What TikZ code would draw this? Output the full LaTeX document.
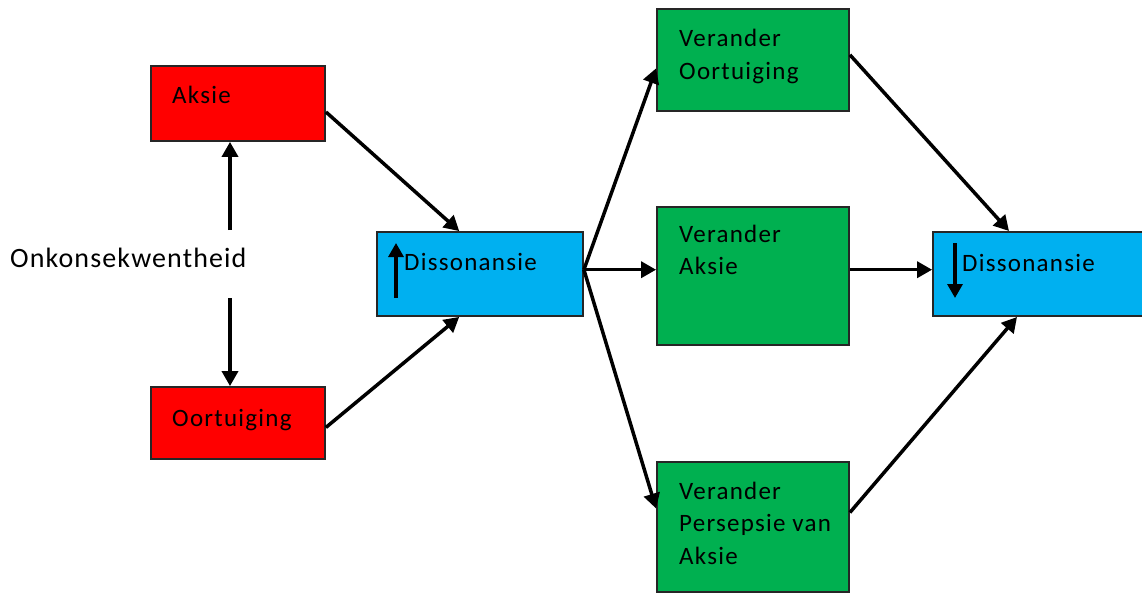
\documentclass[tikz,border=0pt]{standalone}
\usepackage{fontspec}
\setmainfont{Carlito}
\usetikzlibrary{arrows.meta,calc}
\definecolor{boxred}{HTML}{FF0000}
\definecolor{boxgreen}{HTML}{00B050}
\definecolor{boxblue}{HTML}{00B0F0}
\begin{document}
\begin{tikzpicture}[x=1pt,y=-1pt,
  box/.style={draw=black!85,line width=1.8pt,inner sep=0pt,minimum width=#1},
  txt/.style={inner sep=0pt,anchor=base west,align=left,font=\fontsize{25}{32.3}\selectfont\addfontfeatures{LetterSpace=5}},
  conn/.style={line width=3.5pt,-{Triangle[length=15pt,width=16pt]}},
  inarrow/.style={line width=3.2pt,-{Triangle[length=14pt,width=15pt]}}]
\clip (0,0) rectangle (1142,594);
\fill[white] (0,0) rectangle (1142,594);
% boxes
\node[box=174pt,fill=boxred,minimum height=75pt] (aksie) at (238,103.5) {};
\node[box=174pt,fill=boxred,minimum height=72pt] (oort) at (238,423) {};
\node[box=206pt,fill=boxblue,minimum height=84pt] (d1) at (480,274) {};
\node[box=192pt,fill=boxgreen,minimum height=102pt] (vo) at (753,60) {};
\node[box=192pt,fill=boxgreen,minimum height=138pt] (va) at (753,276) {};
\node[box=192pt,fill=boxgreen,minimum height=130pt] (vp) at (753,527) {};
\node[box=217pt,fill=boxblue,minimum height=84pt] (d2) at (1041.5,274) {};
% texts
\node[txt] (taksie) at (172,103) {Aksie};
\node[txt] (toort) at (172,426) {Oortuiging};
\node[txt] (td1) at (404,270) {Dissonansie};
\node[txt] (tvo) at (679,79) {Verander\\Oortuiging};
\node[txt] (tva) at (679,274.5) {Verander\\Aksie};
\node[txt] (tvp) at (679,564) {Verander\\Persepsie van\\Aksie};
\node[txt] (td2) at (962,271) {Dissonansie};
\node[inner sep=0pt,anchor=base west,font=\fontsize{28}{32}\selectfont\addfontfeatures{LetterSpace=4}] (onk) at (10,267) {Onkonsekwentheid};
% arrows inside dissonance boxes
\coordinate (u1) at (396,298);
\coordinate (u2) at (396,243);
\draw[inarrow] (u1) -- (u2);
\coordinate (w1) at (955,243);
\coordinate (w2) at (955,298);
\draw[inarrow] (w1) -- (w2);
% onkonsekwentheid arrows
\coordinate (onkT) at (230,230);
\coordinate (onkB) at (230,298);
\draw[conn] (onkT) -- (aksie.south -| onkT);
\draw[conn] (onkB) -- (oort.north -| onkB);
% connectors
\draw[conn] ($(aksie.north east)!0.61!(aksie.south east)$) -- ($(d1.north west)!0.40!(d1.north east)$);
\draw[conn] ($(oort.north east)!0.56!(oort.south east)$) -- ($(d1.south west)!0.40!(d1.south east)$);
\coordinate (d1out) at ($(d1.north east)!0.45!(d1.south east)$);
\draw[conn] (d1out) -- ($(vo.north west)!0.58!(vo.south west)$);
\draw[conn] (d1out) -- (va.west |- d1out);
\draw[conn] (d1out) -- ($(vp.north west)!0.36!(vp.south west)$);
\draw[conn] ($(vo.north east)!0.45!(vo.south east)$) -- (1009,231);
\draw[conn] (va.east |- d1out) -- (d2.west |- d1out);
\draw[conn] ($(vp.north east)!0.39!(vp.south east)$) -- (1017,317);
\end{tikzpicture}
\end{document}
